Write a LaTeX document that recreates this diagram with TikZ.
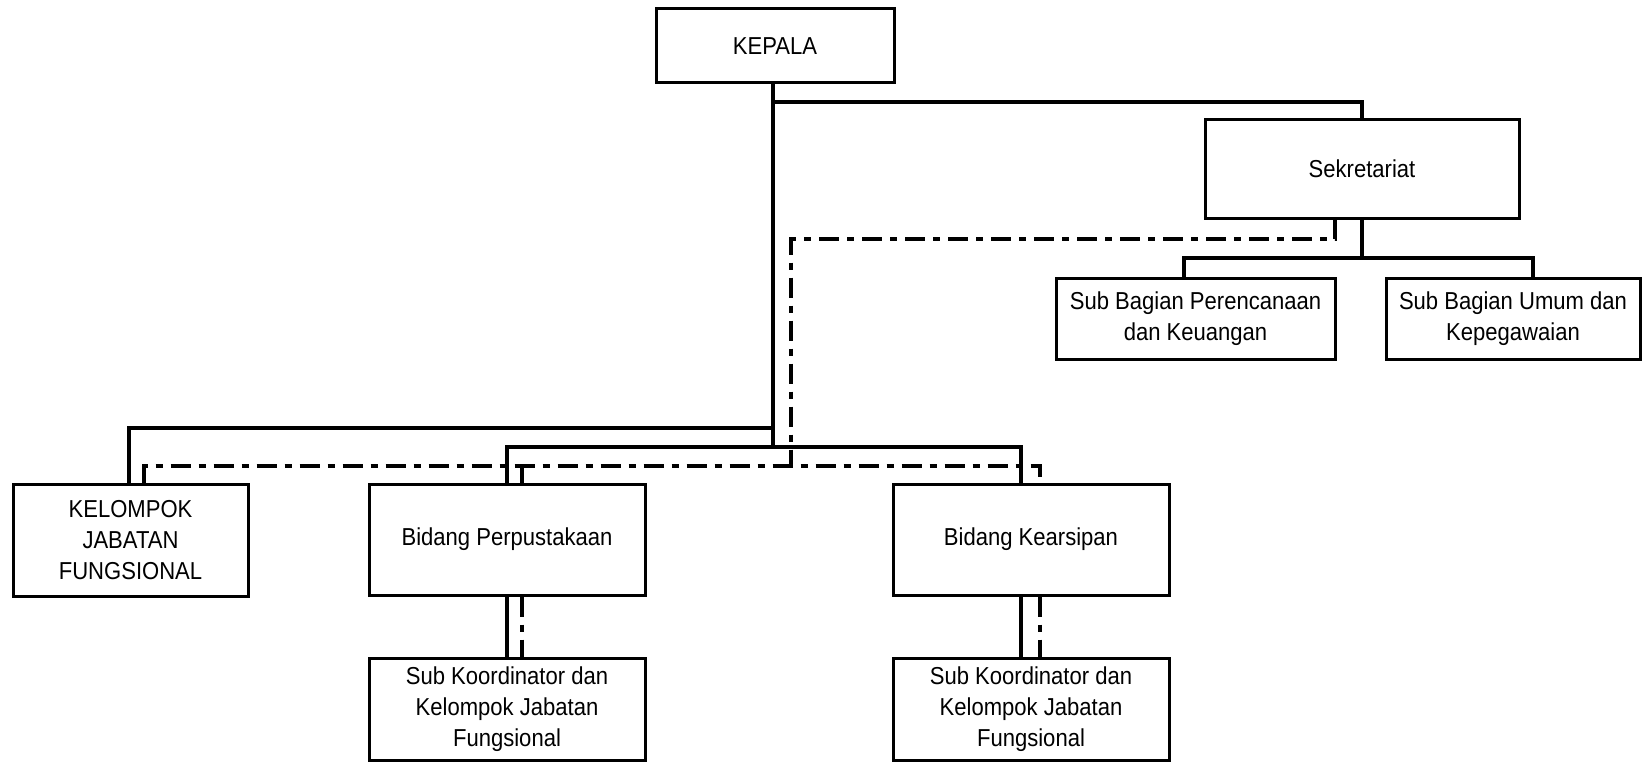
\documentclass[tikz,border=0pt]{standalone}
\usepackage{fontspec}
\setmainfont{Liberation Sans}[FakeStretch=0.9]
\usepackage{tikz}
\usetikzlibrary{positioning}
\newcommand{\orgfont}{\fontsize{24.5}{31}\selectfont}
\tikzset{unit node/.style={rectangle,draw,line width=3pt,align=center,font=\orgfont,inner sep=0pt},
         bidang node/.style={unit node,minimum width=276pt,minimum height=111pt},
         sub node/.style={unit node,minimum width=276pt,minimum height=102pt},
         solid link/.style={line width=4.5pt},
         dash link/.style={line width=4.5pt,dash pattern=on 20pt off 8pt on 7pt off 8pt}
}
\begin{document}
\begin{tikzpicture}[x=1pt,y=-1pt]
\useasboundingbox (0,0) rectangle (1643,762);
% boxes
\node [unit node,minimum width=238pt,minimum height=74pt] (kepala) at (775,46) {KEPALA};
\node [unit node,minimum width=314pt,minimum height=98pt] (sekretariat) at (1362,169) {Sekretariat};
\node [unit node,minimum width=279pt,minimum height=81pt] (perencanaan) at (1195.5,318.5) {Sub Bagian Perencanaan\\dan Keuangan};
\node [unit node,minimum width=254pt,minimum height=81pt] (umum) at (1513,318.5) {Sub Bagian Umum dan\\Kepegawaian};
\node [unit node,minimum width=235pt,minimum height=112pt] (kelompok) at (130.5,540) {KELOMPOK\\JABATAN\\FUNGSIONAL};
\node [bidang node] (perpus) at (507,539.5) {Bidang Perpustakaan};
\node [bidang node] (arsip) at (1031,539.5) {Bidang Kearsipan};
\node [sub node] (subperpus) at (507,709) {Sub Koordinator dan\\Kelompok Jabatan\\Fungsional};
\node [sub node] (subarsip) at (1031,709) {Sub Koordinator dan\\Kelompok Jabatan\\Fungsional};
\coordinate (trunk) at (773,447);
\coordinate (dashtrunk) at (791,466);
% solid lines
\draw [solid link] (kepala.south -| trunk) -- (trunk);
\draw [solid link] (773,102) -| (sekretariat.north);
\draw [solid link] (773,428) -| ([xshift=-1.5pt]kelompok.north);
\draw [solid link] (perpus.north) |- (trunk) -| ([xshift=-10pt]arsip.north);
\draw [solid link] (sekretariat.south) -- (1362,258);
\draw [solid link] ([xshift=-11.5pt]perencanaan.north) |- (1533,258) -| ([xshift=20pt]umum.north);
\draw [solid link] (perpus.south) -- (subperpus.north);
\draw [solid link] ([xshift=-10pt]arsip.south) -- ([xshift=-10pt]subarsip.north);
% dash dot lines
\draw [dash link] ([xshift=-27pt]sekretariat.south) |- (791,239) -- (dashtrunk);
\draw [dash link] ([xshift=13.5pt]kelompok.north) |- (dashtrunk) -| ([xshift=9pt]arsip.north);
\draw [dash link] (522,466) -- ([xshift=15pt]perpus.north);
\draw [dash link] ([xshift=15pt]perpus.south) -- ([xshift=15pt]subperpus.north);
\draw [dash link] ([xshift=9pt]arsip.south) -- ([xshift=9pt]subarsip.north);
\end{tikzpicture}
\end{document}
